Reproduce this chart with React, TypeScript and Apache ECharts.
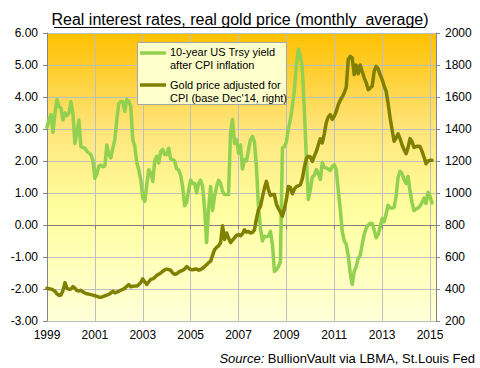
import React, { useEffect, useRef } from "react";
import * as echarts from "echarts";

// Monthly data, Jan 1999 .. Feb 2015
const realYield: number[] = [
  // 1999
  3.05, 3.3, 3.45, 2.9, 3.5, 3.92, 3.7, 3.65, 3.28, 3.5, 3.42, 3.5,
  // 2000
  3.86, 3.49, 2.55, 2.9, 3.28, 2.45, 2.42, 2.4, 2.3, 2.25, 2.2, 2.03,
  // 2001
  1.46, 1.6, 1.85, 1.87, 1.82, 1.85, 2.5, 2.2, 2.1, 2.4, 2.67, 3.3,
  // 2002
  3.8, 3.86, 3.86, 3.55, 3.92, 3.86, 3.7, 2.67, 2.46, 1.95, 1.73, 1.42,
  // 2003
  0.85, 0.74, 1.25, 1.73, 1.63, 1.36, 2.0, 2.15, 1.94, 2.3, 2.36, 2.2,
  // 2004
  2.2, 2.4, 2.06, 2.05, 2.0, 1.75, 1.72, 1.55, 1.2, 0.6, 0.7, 1.1,
  // 2005
  1.4, 1.3, 1.3, 1.0, 1.3, 1.4, 1.2, 0.5, -0.55, 0.5, 1.2, 0.45,
  // 2006
  0.9, 1.2, 1.4, 1.3, 1.05, 0.95, 0.95, 0.95, 2.9, 3.3, 2.55, 2.67,
  // 2007
  2.25, 2.5, 1.75, 2.05, 2.0, 2.35, 2.67, 2.77, 2.6, 1.8, 0.58, -0.1,
  // 2008
  -0.5, -0.35, -0.37, -0.35, -0.2, -0.6, -1.45, -1.4, -1.3, -1.15, 2.4, 2.45,
  // 2009
  2.6, 3.0, 3.3, 3.7, 4.2, 5.0, 5.5, 5.3, 4.9, 3.6, 2.1, 0.8,
  // 2010
  1.1, 1.5, 1.55, 1.73, 1.62, 1.42, 1.95, 1.8, 1.78, 1.75, 1.7, 1.83,
  // 2011
  1.88, 1.73, 1.1, 0.5, -0.2, -0.5, -0.6, -0.95, -1.5, -1.86, -1.45, -1.3,
  // 2012
  -1.05, -0.95, -0.6, -0.3, -0.1, 0.0, 0.05, 0.05, -0.15, -0.4, -0.3, -0.05,
  // 2013
  0.2, 0.1, 0.35, 0.62, 0.53, 0.53, 0.55, 0.9, 1.5, 1.68, 1.6, 1.42,
  // 2014
  1.3, 1.52, 1.05, 0.7, 0.45, 0.5, 0.53, 0.6, 0.7, 0.84, 0.67, 1.02,
  // 2015
  0.9, 0.69,
];

const realGold: number[] = [
  // 1999
  405, 402, 400, 395, 386, 370, 360, 362, 390, 440, 405, 398,
  // 2000
  400, 415, 405, 390, 388, 392, 382, 375, 370, 368, 365, 362,
  // 2001
  358, 354, 350, 348, 352, 358, 362, 366, 375, 386, 376, 380,
  // 2002
  386, 392, 398, 405, 417, 427, 414, 417, 418, 418, 428, 440,
  // 2003
  463, 445, 428, 445, 460, 463, 472, 485, 492, 500, 511, 520,
  // 2004
  524, 521, 517, 500, 492, 495, 505, 512, 517, 525, 540, 530,
  // 2005
  522, 520, 523, 525, 518, 522, 530, 540, 552, 565, 573, 610,
  // 2006
  646, 660, 670, 690, 796, 710, 750, 720, 690, 705, 720, 735,
  // 2007
  740, 733, 745, 770, 755, 760, 750, 754, 770, 840, 896, 917,
  // 2008
  975, 1030, 1073, 1021, 985, 990, 990, 930, 903, 880, 855, 900,
  // 2009
  960, 1040, 1035, 995, 1025, 1040, 1045, 1052, 1090, 1160, 1215, 1229,
  // 2010
  1225, 1198, 1230, 1260, 1300, 1338, 1313, 1370, 1440, 1475, 1490, 1460,
  // 2011
  1479, 1510, 1552, 1580, 1600, 1625, 1660, 1833, 1854, 1844, 1740, 1800,
  // 2012
  1745, 1800, 1760, 1720, 1690, 1646, 1656, 1667, 1760, 1792, 1775, 1740,
  // 2013
  1710, 1670, 1635, 1560, 1469, 1396, 1323, 1344, 1370, 1340, 1300, 1270,
  // 2014
  1246, 1285, 1340, 1320, 1285, 1290, 1292, 1290, 1260, 1225, 1183, 1200,
  // 2015
  1204, 1204,
];

const firstYear = 1999;
const monthCount = 196; // Jan 1999 .. Apr 2015 on the axis
const months: string[] = [];
for (let i = 0; i < monthCount; i++) {
  const y = firstYear + Math.floor(i / 12);
  const m = (i % 12) + 1;
  months.push(`${y}-${m < 10 ? "0" + m : m}`);
}

const titleText = "Real interest rates, real gold price (monthly  average)";
const yieldName = "10-year US Trsy yield\nafter CPI inflation";
const goldName = "Gold price adjusted for\nCPI (base Dec'14, right)";

const FONT = "'Liberation Sans', Arial, sans-serif";
const GREEN = "#92D050";
const OLIVE = "#808000";
const GRID = "#BFBFBF";
const AXIS = "#868686";

const everyTwoYears = (idx: number) => idx % 24 === 0;

export default function App() {
  const ref = useRef<HTMLDivElement>(null);
  useEffect(() => {
    document.body.style.margin = "0";
    if (!ref.current) return;
    const chart = echarts.init(ref.current, undefined, { renderer: "svg" });
    chart.setOption({
      animation: false,
      backgroundColor: "#FFFFFF",
      textStyle: { fontFamily: FONT },
      grid: {
        left: 47,
        right: 44,
        top: 33,
        bottom: 47,
        containLabel: false,
        outerBoundsMode: "none",
        show: true,
        borderWidth: 0,
        backgroundColor: {
          type: "linear",
          x: 0,
          y: 0,
          x2: 0,
          y2: 1,
          colorStops: [
            { offset: 0, color: "#FFC000" },
            { offset: 0.33, color: "#FFE57A" },
            { offset: 0.62, color: "#FFFFA0" },
            { offset: 1, color: "#FFFFD8" },
          ],
        },
      },
      xAxis: [
        {
          type: "category",
          data: months,
          boundaryGap: false,
          position: "bottom",
          axisLine: { show: false, onZero: false },
          axisTick: { show: false },
          axisLabel: {
            interval: everyTwoYears,
            formatter: (v: string) => v.slice(0, 4),
            color: "#000",
            fontSize: 12,
            fontFamily: FONT,
            margin: 8,
          },
          splitLine: {
            show: true,
            interval: everyTwoYears,
            lineStyle: { color: GRID, width: 1 },
          },
        },
        {
          type: "category",
          data: months,
          boundaryGap: false,
          position: "bottom",
          axisLine: {
            show: true,
            onZero: true,
            onZeroAxisIndex: 0,
            lineStyle: { color: "#808080", width: 1 },
          },
          axisTick: {
            show: true,
            interval: everyTwoYears,
            length: 4,
            lineStyle: { color: "#808080" },
          },
          axisLabel: { show: false },
          splitLine: { show: false },
        },
      ],
      yAxis: [
        {
          type: "value",
          position: "left",
          min: -3,
          max: 6,
          interval: 1,
          axisLine: { show: true, lineStyle: { color: AXIS } },
          axisTick: { show: true, length: 4, lineStyle: { color: AXIS } },
          axisLabel: {
            formatter: (v: number) => v.toFixed(2),
            color: "#000",
            fontSize: 12,
            fontFamily: FONT,
            margin: 9,
          },
          splitLine: { show: true, lineStyle: { color: GRID, width: 1 } },
        },
        {
          type: "value",
          position: "right",
          min: 200,
          max: 2000,
          interval: 200,
          axisLine: { show: true, lineStyle: { color: AXIS } },
          axisTick: { show: true, length: 4, lineStyle: { color: AXIS } },
          axisLabel: {
            formatter: (v: number) => String(v),
            color: "#000",
            fontSize: 12,
            fontFamily: FONT,
            margin: 9,
          },
          splitLine: { show: false },
        },
      ],
      series: [
        {
          name: yieldName,
          type: "line",
          xAxisIndex: 0,
          yAxisIndex: 0,
          data: realYield,
          showSymbol: false,
          lineStyle: { color: GREEN, width: 3.5, cap: "round", join: "round" },
          itemStyle: { color: GREEN },
          z: 3,
        },
        {
          name: goldName,
          type: "line",
          xAxisIndex: 0,
          yAxisIndex: 1,
          data: realGold,
          showSymbol: false,
          lineStyle: { color: OLIVE, width: 3.5, cap: "round", join: "round" },
          itemStyle: { color: OLIVE },
          z: 4,
        },
      ],
      graphic: [
        {
          type: "text",
          x: 240,
          y: 19,
          style: {
            text: titleText,
            fill: "#000",
            font: `16px ${FONT}`,
            textAlign: "center",
            textVerticalAlign: "middle",
          },
        },
        {
          type: "line",
          shape: { x1: 54, y1: 27.5, x2: 425, y2: 27.5 },
          style: { stroke: "#000", lineWidth: 1 },
        },
        {
          type: "rect",
          shape: { x: 137.5, y: 42.5, width: 149, height: 62 },
          style: { fill: "#FFFFCC", stroke: "#A6A6A6", lineWidth: 1 },
          z: 10,
        },
        {
          type: "line",
          shape: { x1: 140, y1: 53, x2: 166, y2: 53 },
          style: { stroke: GREEN, lineWidth: 3.5 },
          z: 11,
        },
        {
          type: "text",
          x: 170,
          y: 46,
          style: {
            text: yieldName,
            fill: "#000",
            font: `11px ${FONT}`,
            lineHeight: 12.7,
            textAlign: "left",
            textVerticalAlign: "top",
          },
          z: 11,
        },
        {
          type: "line",
          shape: { x1: 140, y1: 85, x2: 166, y2: 85 },
          style: { stroke: OLIVE, lineWidth: 3.5 },
          z: 11,
        },
        {
          type: "text",
          x: 170,
          y: 79,
          style: {
            text: goldName,
            fill: "#000",
            font: `11px ${FONT}`,
            lineHeight: 12.7,
            textAlign: "left",
            textVerticalAlign: "top",
          },
          z: 11,
        },
        {
          type: "text",
          x: 475,
          y: 358,
          style: {
            text: "{i|Source:} BullionVault via LBMA, St.Louis Fed",
            fill: "#000",
            font: `13px ${FONT}`,
            textAlign: "right",
            textVerticalAlign: "middle",
            rich: {
              i: { fontStyle: "italic", fontSize: 13, fontFamily: FONT, fill: "#000" },
            },
          },
        },
      ],
    });
    return () => chart.dispose();
  }, []);
  return <div ref={ref} style={{ width: 480, height: 368 }} />;
}
